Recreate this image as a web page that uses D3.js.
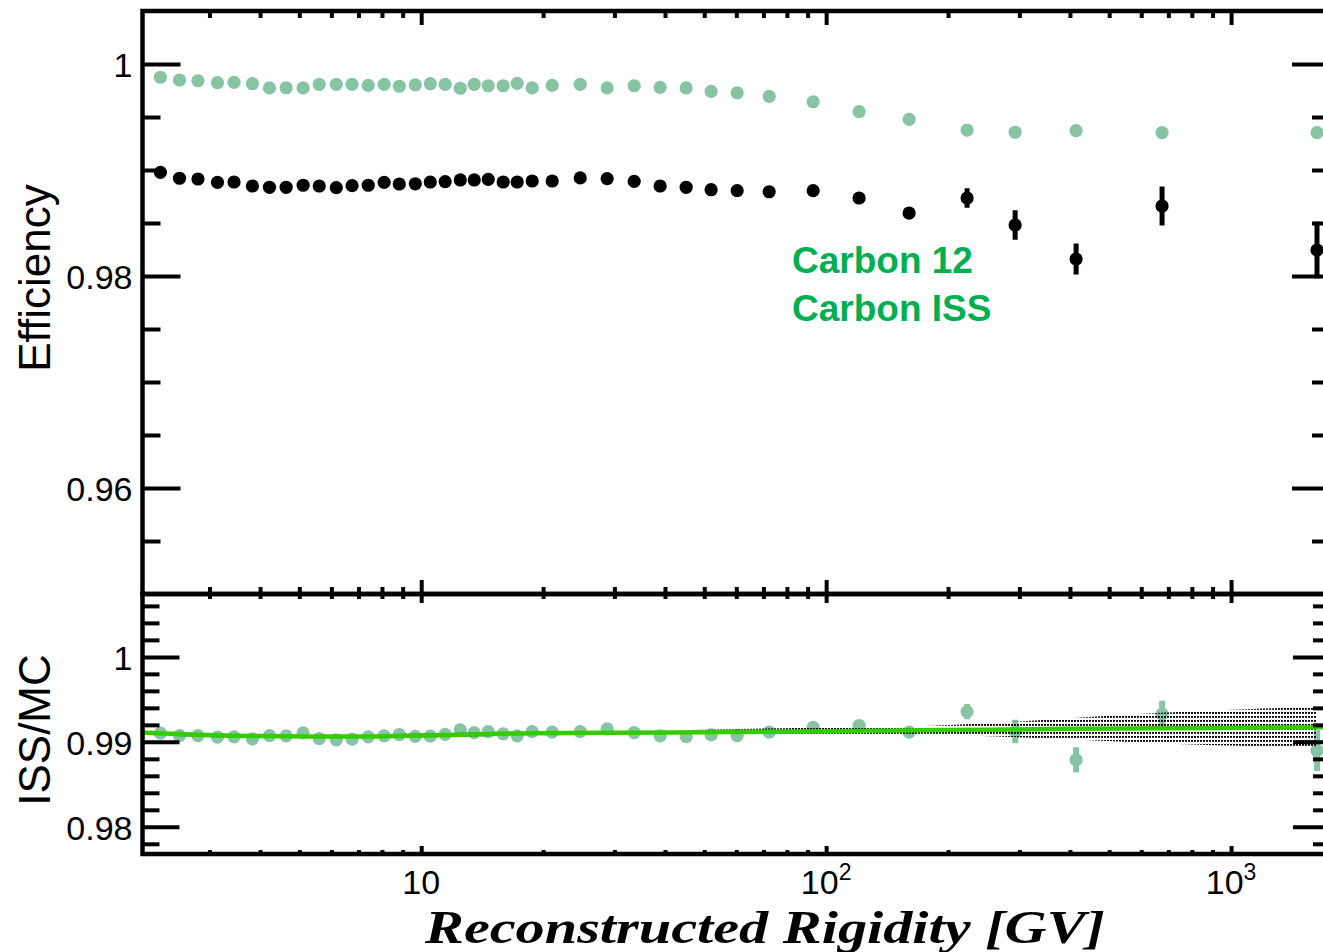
<!DOCTYPE html>
<html>
<head>
<meta charset="utf-8">
<script src="https://cdn.jsdelivr.net/npm/d3@7"></script>
<style>
  html, body { margin: 0; padding: 0; background: #fff; }
  svg { display: block; }
</style>
</head>
<body>
<svg id="chart" width="1323" height="952"></svg>
<script>
// Rigidity bin centres [GV]
const rigidity = [2.27, 2.53, 2.81, 3.14, 3.45, 3.83, 4.22, 4.64, 5.11, 5.60,
  6.17, 6.75, 7.40, 8.10, 8.83, 9.67, 10.53, 11.46, 12.49, 13.52,
  14.64, 15.94, 17.26, 18.80, 21.06, 24.70, 28.79, 33.57, 38.91, 45.12,
  52.00, 60.29, 72.33, 92.88, 120.6, 160.3, 222.9, 292.9, 414.3, 675.4, 1630];

// Efficiency, Carbon 12 simulation
const effMC = [0.99875, 0.99849, 0.99842, 0.99824, 0.99827, 0.99814, 0.99774, 0.99776, 0.99774, 0.99808,
  0.99808, 0.99808, 0.99799, 0.99808, 0.99790, 0.99803, 0.99814, 0.99807, 0.99771, 0.99808,
  0.99795, 0.99795, 0.99818, 0.99774, 0.99799, 0.99808, 0.99774, 0.99795, 0.99780, 0.99774,
  0.99742, 0.99729, 0.99695, 0.99644, 0.99550, 0.99478, 0.99377, 0.99356, 0.99371, 0.99352, 0.99352];

// Efficiency, Carbon ISS data
const effISS = [0.98978, 0.98922, 0.98915, 0.98884, 0.98887, 0.98849, 0.98837, 0.98837, 0.98856, 0.98849,
  0.98833, 0.98852, 0.98856, 0.98884, 0.98868, 0.98870, 0.98887, 0.98890, 0.98906, 0.98906,
  0.98912, 0.98887, 0.98887, 0.98896, 0.98896, 0.98925, 0.98918, 0.98893, 0.98849, 0.98837,
  0.98814, 0.98805, 0.98795, 0.98805, 0.98736, 0.98594, 0.98736, 0.98481, 0.98160, 0.98660, 0.98245];
const errISS = [0.0001, 0.0001, 0.0001, 0.0001, 0.0001, 0.0001, 0.0001, 0.0001, 0.0001, 0.0001,
  0.0001, 0.0001, 0.0001, 0.0001, 0.0001, 0.0001, 0.0001, 0.0001, 0.0001, 0.0001,
  0.0001, 0.0001, 0.0001, 0.0001, 0.0001, 0.0001, 0.0002, 0.0002, 0.0002, 0.0002,
  0.0002, 0.0003, 0.0003, 0.0003, 0.0004, 0.0005, 0.00092, 0.00139, 0.00146, 0.00184, 0.00267];

// ISS / MC ratio
const ratio = [0.99102, 0.99074, 0.99074, 0.99055, 0.99059, 0.99035, 0.99074, 0.99071, 0.99106, 0.99039,
  0.99024, 0.99032, 0.99059, 0.99071, 0.99086, 0.99065, 0.99067, 0.99088, 0.99141, 0.99109,
  0.99121, 0.99094, 0.99071, 0.99121, 0.99114, 0.99121, 0.99153, 0.99109, 0.99071, 0.99062,
  0.99082, 0.99074, 0.99114, 0.99171, 0.99192, 0.99114, 0.99356, 0.99121, 0.98788, 0.99326, 0.98898];
const errRatio = [0.0001, 0.0001, 0.0001, 0.0001, 0.0001, 0.0001, 0.0001, 0.0001, 0.0001, 0.0001,
  0.0001, 0.0001, 0.0001, 0.0001, 0.0001, 0.0001, 0.0001, 0.0001, 0.0001, 0.0001,
  0.0001, 0.0001, 0.0001, 0.0001, 0.0001, 0.0001, 0.0002, 0.0002, 0.0002, 0.0002,
  0.0002, 0.0003, 0.0003, 0.0003, 0.0004, 0.0005, 0.0009, 0.00138, 0.00147, 0.00159, 0.00241];

// Smooth fit of the ratio and its uncertainty band
const fitR    = [2.05, 3.43, 6.06, 11.8, 18.9, 40.5, 86.3, 150, 202, 290, 382, 675, 1630, 1755];
const fitVal  = [0.99109, 0.99071, 0.99062, 0.99082, 0.99102, 0.99109, 0.99121, 0.99133, 0.99139, 0.99146, 0.99153, 0.99161, 0.99172, 0.99174];
const fitHalf = [0.00022, 0.00022, 0.00022, 0.00022, 0.00023, 0.00025, 0.00043, 0.00045, 0.0006, 0.0009, 0.0012, 0.0018, 0.0024, 0.0025];

// Axis ticks
const rigidityMajor = [10, 100, 1000];
const rigidityLabels = [["10", ""], ["10", "2"], ["10", "3"]];
const effMajor = [0.96, 0.98, 1];
const effMinor = [0.955, 0.965, 0.97, 0.975, 0.985, 0.99, 0.995];
const ratioMajor = [0.98, 0.99, 1];
const ratioMinor = [0.978, 0.982, 0.984, 0.986, 0.988, 0.992, 0.994, 0.996, 0.998, 1.002, 1.004, 1.006];

const legendLines = ["Carbon 12", "Carbon ISS"];

// ---- layout ----
const padL = 142.5, padR = 1330, padT = 11, padM = 594, padB = 854;
const colMC = "#86c4a4", colISS = "#000000", colFit = "#33cc00", colLegend = "#00b050";
const sansFont = "'Liberation Sans', Arial, Helvetica, sans-serif";

const svg = d3.select("#chart");
svg.append("rect").attr("width", 1323).attr("height", 952).attr("fill", "#fff");

const x = d3.scaleLog().domain([2.05, 1755]).range([padL, padR]);
const yEff = d3.scaleLinear().domain([0.95, 1.005]).range([padM, padT]);
const yRat = d3.scaleLinear().domain([0.9768, 1.0074]).range([padB, padM]);

const xMinor = [];
[1, 10, 100, 1000].forEach(d => { for (let k = 2; k <= 9; k++) { const v = d * k; if (v > 2.05 && v < 1755) xMinor.push(v); } });

const defs = svg.append("defs");
defs.append("clipPath").attr("id", "clipTop").append("rect")
  .attr("x", padL).attr("y", padT).attr("width", padR - padL).attr("height", padM - padT);
defs.append("clipPath").attr("id", "clipBot").append("rect")
  .attr("x", padL).attr("y", padM).attr("width", padR - padL).attr("height", padB - padM);
// dotted fill used for the fit uncertainty band
const pat = defs.append("pattern").attr("id", "dots").attr("patternUnits", "userSpaceOnUse")
  .attr("width", 3).attr("height", 4);
pat.append("rect").attr("x", 0).attr("y", 0).attr("width", 2).attr("height", 1.8).attr("fill", "#000");

function drawAxis(gen, tx, ty) {
  const a = svg.append("g").attr("transform", `translate(${tx},${ty})`).call(gen);
  a.select(".domain").remove();
  a.selectAll(".tick line").attr("stroke", "#000").attr("stroke-width", 4);
  a.attr("font-family", sansFont).attr("font-size", 34);
  return a;
}

// ---- top panel: efficiencies ----
const topG = svg.append("g").attr("clip-path", "url(#clipTop)");
const idx = d3.range(rigidity.length);

topG.append("g").selectAll("circle").data(idx).join("circle")
  .attr("cx", i => x(rigidity[i])).attr("cy", i => yEff(effMC[i])).attr("r", 6.6).attr("fill", colMC);

topG.append("g").selectAll("line").data(idx).join("line")
  .attr("x1", i => x(rigidity[i])).attr("x2", i => x(rigidity[i]))
  .attr("y1", i => yEff(effISS[i] - errISS[i])).attr("y2", i => yEff(effISS[i] + errISS[i]))
  .attr("stroke", colISS).attr("stroke-width", 5);
topG.append("g").selectAll("circle").data(idx).join("circle")
  .attr("cx", i => x(rigidity[i])).attr("cy", i => yEff(effISS[i])).attr("r", 6.6).attr("fill", colISS);

// legend
const leg = svg.append("text").attr("font-family", sansFont).attr("font-weight", "bold")
  .attr("font-size", 37).attr("fill", colLegend);
legendLines.forEach((t, k) => leg.append("tspan").attr("x", 792).attr("y", 273 + k * 48).text(t));

// ---- bottom panel: ratio ----
const botG = svg.append("g").attr("clip-path", "url(#clipBot)");
botG.append("g").selectAll("line").data(idx).join("line")
  .attr("x1", i => x(rigidity[i])).attr("x2", i => x(rigidity[i]))
  .attr("y1", i => yRat(ratio[i] - errRatio[i])).attr("y2", i => yRat(ratio[i] + errRatio[i]))
  .attr("stroke", colMC).attr("stroke-width", 6);
botG.append("g").selectAll("circle").data(idx).join("circle")
  .attr("cx", i => x(rigidity[i])).attr("cy", i => yRat(ratio[i])).attr("r", 6.6).attr("fill", colMC);

const fitIdx = d3.range(fitR.length);
const bandIdx = fitIdx.filter(i => fitR[i] <= 1630);
botG.append("path").datum(bandIdx)
  .attr("d", d3.area().curve(d3.curveMonotoneX)
    .x(i => x(fitR[i])).y0(i => yRat(fitVal[i] - fitHalf[i])).y1(i => yRat(fitVal[i] + fitHalf[i])))
  .attr("fill", "url(#dots)");
botG.append("path").datum(fitIdx)
  .attr("d", d3.line().curve(d3.curveMonotoneX).x(i => x(fitR[i])).y(i => yRat(fitVal[i])))
  .attr("fill", "none").attr("stroke", colFit).attr("stroke-width", 4.5);

// ---- axes ----
// top panel y
drawAxis(d3.axisLeft(yEff).tickValues(effMajor).tickSize(-38).tickPadding(10).tickFormat(d => String(d)), padL, 0)
  .selectAll("text").attr("dy", "0.36em");
drawAxis(d3.axisLeft(yEff).tickValues(effMinor).tickSize(-18).tickFormat(""), padL, 0);
drawAxis(d3.axisRight(yEff).tickValues(effMajor).tickSize(-38).tickFormat(""), padR, 0);
drawAxis(d3.axisRight(yEff).tickValues(effMinor).tickSize(-18).tickFormat(""), padR, 0);
// top panel x
drawAxis(d3.axisTop(x).tickValues(rigidityMajor).tickSize(-14).tickFormat(""), 0, padT);
drawAxis(d3.axisTop(x).tickValues(xMinor).tickSize(-7).tickFormat(""), 0, padT);
drawAxis(d3.axisBottom(x).tickValues(rigidityMajor).tickSize(-14).tickFormat(""), 0, padM);
drawAxis(d3.axisBottom(x).tickValues(xMinor).tickSize(-7).tickFormat(""), 0, padM);
// bottom panel y
drawAxis(d3.axisLeft(yRat).tickValues(ratioMajor).tickSize(-37).tickPadding(10).tickFormat(d => String(d)), padL, 0)
  .selectAll("text").attr("dy", "0.36em");
drawAxis(d3.axisLeft(yRat).tickValues(ratioMinor).tickSize(-17).tickFormat(""), padL, 0);
drawAxis(d3.axisRight(yRat).tickValues(ratioMajor).tickSize(-37).tickFormat(""), padR, 0);
drawAxis(d3.axisRight(yRat).tickValues(ratioMinor).tickSize(-17).tickFormat(""), padR, 0);
// bottom panel x
drawAxis(d3.axisTop(x).tickValues(rigidityMajor).tickSize(-9).tickFormat(""), 0, padM);
drawAxis(d3.axisTop(x).tickValues(xMinor).tickSize(-5).tickFormat(""), 0, padM);
drawAxis(d3.axisBottom(x).tickValues(rigidityMajor).tickSize(-8).tickFormat(""), 0, padB);
drawAxis(d3.axisBottom(x).tickValues(xMinor).tickSize(-4).tickFormat(""), 0, padB);

// x tick labels with exponents
const xl = svg.append("g").attr("font-family", sansFont).attr("font-size", 34).attr("fill", "#000");
rigidityMajor.forEach((v, k) => {
  const t = xl.append("text").attr("x", x(v)).attr("y", 894).attr("text-anchor", "middle");
  t.append("tspan").text(rigidityLabels[k][0]);
  if (rigidityLabels[k][1]) t.append("tspan").attr("font-size", 23).attr("dy", -14).text(rigidityLabels[k][1]);
});

// frames
[[padT, padM], [padM, padB]].forEach(([y0, y1]) => {
  svg.append("rect").attr("x", padL).attr("y", y0).attr("width", padR - padL).attr("height", y1 - y0)
    .attr("fill", "none").attr("stroke", "#000").attr("stroke-width", 4.5);
});

// axis titles
svg.append("text").attr("transform", "translate(50,278) rotate(-90)").attr("text-anchor", "middle")
  .attr("font-family", sansFont).attr("font-size", 44).text("Efficiency");
svg.append("text").attr("transform", "translate(50,730) rotate(-90)").attr("text-anchor", "middle")
  .attr("font-family", sansFont).attr("font-size", 44).text("ISS/MC");
svg.append("text").attr("x", 765).attr("y", 943).attr("text-anchor", "middle")
  .attr("font-family", "'Liberation Serif', 'DejaVu Serif', serif").attr("font-weight", "bold")
  .attr("font-style", "italic").attr("font-size", 46)
  .attr("textLength", 680).attr("lengthAdjust", "spacingAndGlyphs")
  .text("Reconstructed Rigidity [GV]");
</script>
</body>
</html>
